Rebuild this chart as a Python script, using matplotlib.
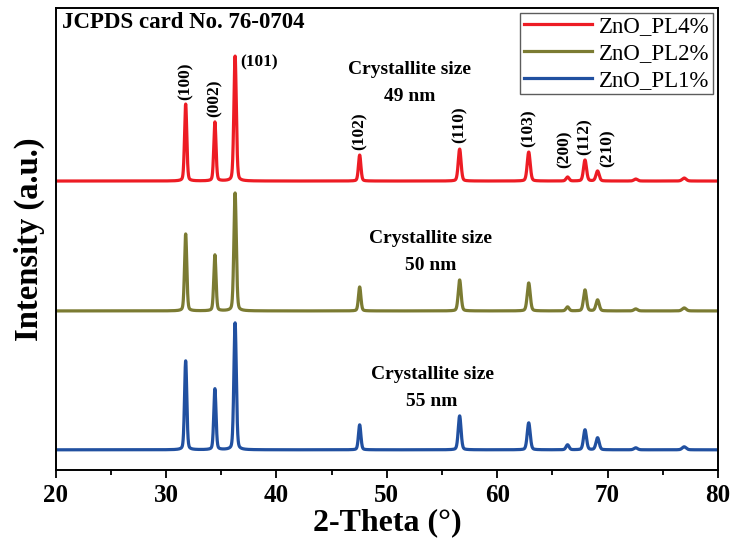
import matplotlib.pyplot as plt
import numpy as np

plt.rcParams['font.family'] = ['Liberation Serif', 'DejaVu Serif']

# ZnO reflections (2-theta, deg)
peaks = [31.77, 34.42, 36.25, 47.54, 56.60, 62.86, 66.38, 67.96, 69.10, 72.56, 76.95]
hkl = ['(100)', '(002)', '(101)', '(102)', '(110)', '(103)', '(200)', '(112)', '(210)', '', '']
# where the hkl labels sit along 2-theta (spread out a little where peaks crowd)
label_x = [31.77, 34.42, 36.75, 47.54, 56.60, 62.86, 66.1, 67.95, 70.05, 0, 0]

# peak heights (a.u.)
h_pl4 = [77, 59, 125, 26, 32, 29, 4, 21, 10, 2, 3]
h_pl2 = [77, 56, 118, 24, 31, 28, 4, 21, 11, 2, 3]
h_pl1 = [89, 61, 127, 25, 34, 27, 5, 20, 12, 2, 3]
widths = [0.24, 0.24, 0.26, 0.26, 0.30, 0.32, 0.32, 0.32, 0.34, 0.38, 0.42]

# baseline of each stacked trace
offsets = {'ZnO_PL4%': 289, 'ZnO_PL2%': 159, 'ZnO_PL1%': 20}
sizes = {'ZnO_PL4%': '49', 'ZnO_PL2%': '50', 'ZnO_PL1%': '55'}
colors = {'ZnO_PL4%': '#ED1C24', 'ZnO_PL2%': '#7B7B32', 'ZnO_PL1%': '#2150A0'}
heights = {'ZnO_PL4%': h_pl4, 'ZnO_PL2%': h_pl2, 'ZnO_PL1%': h_pl1}

tt = np.linspace(20, 80, 6000)


def profile(h, eta=0.25):
    # pseudo-Voigt peaks
    y = np.zeros_like(tt)
    for p, a, w in zip(peaks, h, widths):
        d = (tt - p) / (w / 2)
        y += a * (eta / (1 + d ** 2) + (1 - eta) * np.exp(-np.log(2) * d ** 2))
    return y


fig = plt.figure(figsize=(7.34, 5.45), dpi=100)
ax = fig.add_axes([0.076, 0.138, 0.902, 0.847])

for name in ['ZnO_PL4%', 'ZnO_PL2%', 'ZnO_PL1%']:
    ax.plot(tt, profile(heights[name]) + offsets[name], color=colors[name], lw=2.3, label=name)

# hkl labels on the top trace
base = offsets['ZnO_PL4%']
gaps = [4, 5, 0, 5, 6, 5, 9, 5, 4]
for lx, a, lab, g in zip(label_x, h_pl4, hkl, gaps):
    if lab == '':
        continue
    if lab == '(101)':
        ax.text(lx, base + a - 6, lab, fontsize=12.5, fontweight='bold', ha='left', va='center')
    else:
        ax.text(lx, base + a + g, lab, fontsize=12.5, fontweight='bold', rotation=90,
                ha='center', va='bottom')

ax.text(20.55, 448, 'JCPDS card No. 76-0704', fontsize=16.5, fontweight='bold', ha='left', va='center')
ax.text(52.1, 387, 'Crystallite size\n' + sizes['ZnO_PL4%'] + ' nm', fontsize=14, fontweight='bold',
        ha='center', va='center', linespacing=1.75)
ax.text(54.0, 218, 'Crystallite size\n' + sizes['ZnO_PL2%'] + ' nm', fontsize=14, fontweight='bold',
        ha='center', va='center', linespacing=1.75)
ax.text(54.1, 82, 'Crystallite size\n' + sizes['ZnO_PL1%'] + ' nm', fontsize=14, fontweight='bold',
        ha='center', va='center', linespacing=1.75)

ax.set_xlim(20, 80)
ax.set_ylim(0, 462)
ax.set_xticks(np.arange(20, 81, 10))
ax.set_xticks(np.arange(20, 81, 5), minor=True)
ax.set_yticks([])
ax.tick_params(axis='x', which='major', direction='out', length=6, width=1.3, labelsize=18, pad=4)
ax.tick_params(axis='x', which='minor', direction='out', length=3.5, width=1.3)
for lab in ax.get_xticklabels():
    lab.set_fontweight('bold')
for s in ax.spines.values():
    s.set_linewidth(1.4)

ax.set_xlabel('2-Theta (°)', fontsize=23, fontweight='bold', labelpad=1)
ax.set_ylabel('Intensity (a.u.)', fontsize=23.5, fontweight='bold', labelpad=8)

leg = ax.legend(loc='upper right', fontsize=16.5, frameon=True, fancybox=False, edgecolor='#333333',
                handlelength=3.0, handletextpad=0.3, borderpad=0.15, labelspacing=0.25,
                borderaxespad=0.2)
leg.get_frame().set_linewidth(1.0)

fig.savefig('out.png', dpi=100)
